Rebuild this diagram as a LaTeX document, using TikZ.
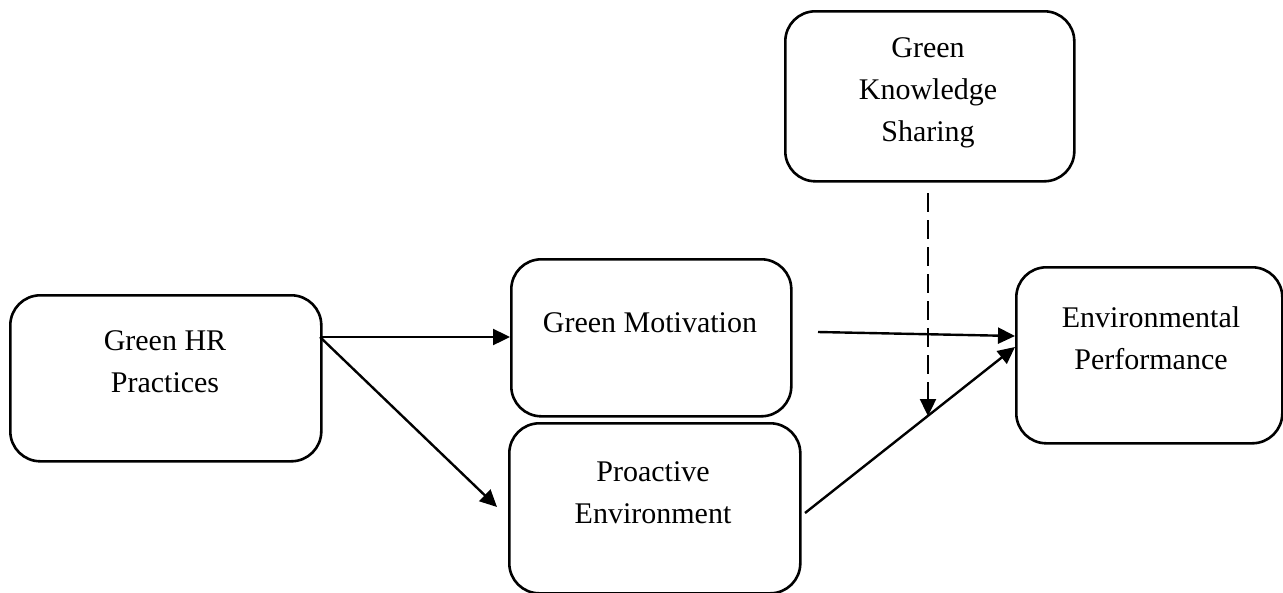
\documentclass[tikz,border=0pt]{standalone}
\usepackage{fontspec}
\setmainfont{Liberation Serif}
\usetikzlibrary{arrows.meta}
\begin{document}
\begin{tikzpicture}[x=1pt,y=-1pt,
  box/.style={draw,line width=2.6pt,rounded corners=30pt,inner sep=0pt,anchor=north west},
  txt/.style={align=center,font=\fontsize{30}{42}\selectfont,inner sep=0pt},
  conn/.style={line width=2.4pt,-{Triangle[length=17pt,width=16pt]}},
  dconn/.style={conn,dash pattern=on 19pt off 8pt}]
\useasboundingbox (0,0) rectangle (1283,592);
% boxes
\node[box,minimum width=311pt,minimum height=166pt] (hr) at (9,294) {};
\node[box,minimum width=280pt,minimum height=157pt] (gm) at (510,258) {};
\node[box,minimum width=291pt,minimum height=170pt] (pe) at (508,422) {};
\node[box,minimum width=289pt,minimum height=170pt] (gks) at (784,10) {};
\node[box,minimum width=266pt,minimum height=176pt] (ep) at (1015,266) {};
% texts
\node[txt] (hrt) at (165,362) {Green HR\\Practices};
\node[txt] (gmt) at (650,323) {Green Motivation};
\node[txt] (pet) at (653,493) {Proactive\\Environment};
\node[txt] (gkst) at (928,93) {Green\\Knowledge\\Sharing};
\node[txt] (ept) at (1151,338) {Environmental\\Performance};
% coordinates
\coordinate (hrs) at (320,337);
\coordinate (pein) at (497,507);
\coordinate (gms) at (818,332);
\coordinate (epa) at (1015,336);
\coordinate (pes) at (805,513);
\coordinate (epb) at (1015,347);
\coordinate (ds) at (928,193);
\coordinate (de) at (928,416);
% connectors
\draw[conn] (hrs) -- (gm.west |- hrs);
\draw[conn] (hrs) -- (pein);
\draw[conn] (gms) -- (epa);
\draw[conn] (pes) -- (epb);
\draw[dconn] (ds) -- (de);
\end{tikzpicture}
\end{document}
